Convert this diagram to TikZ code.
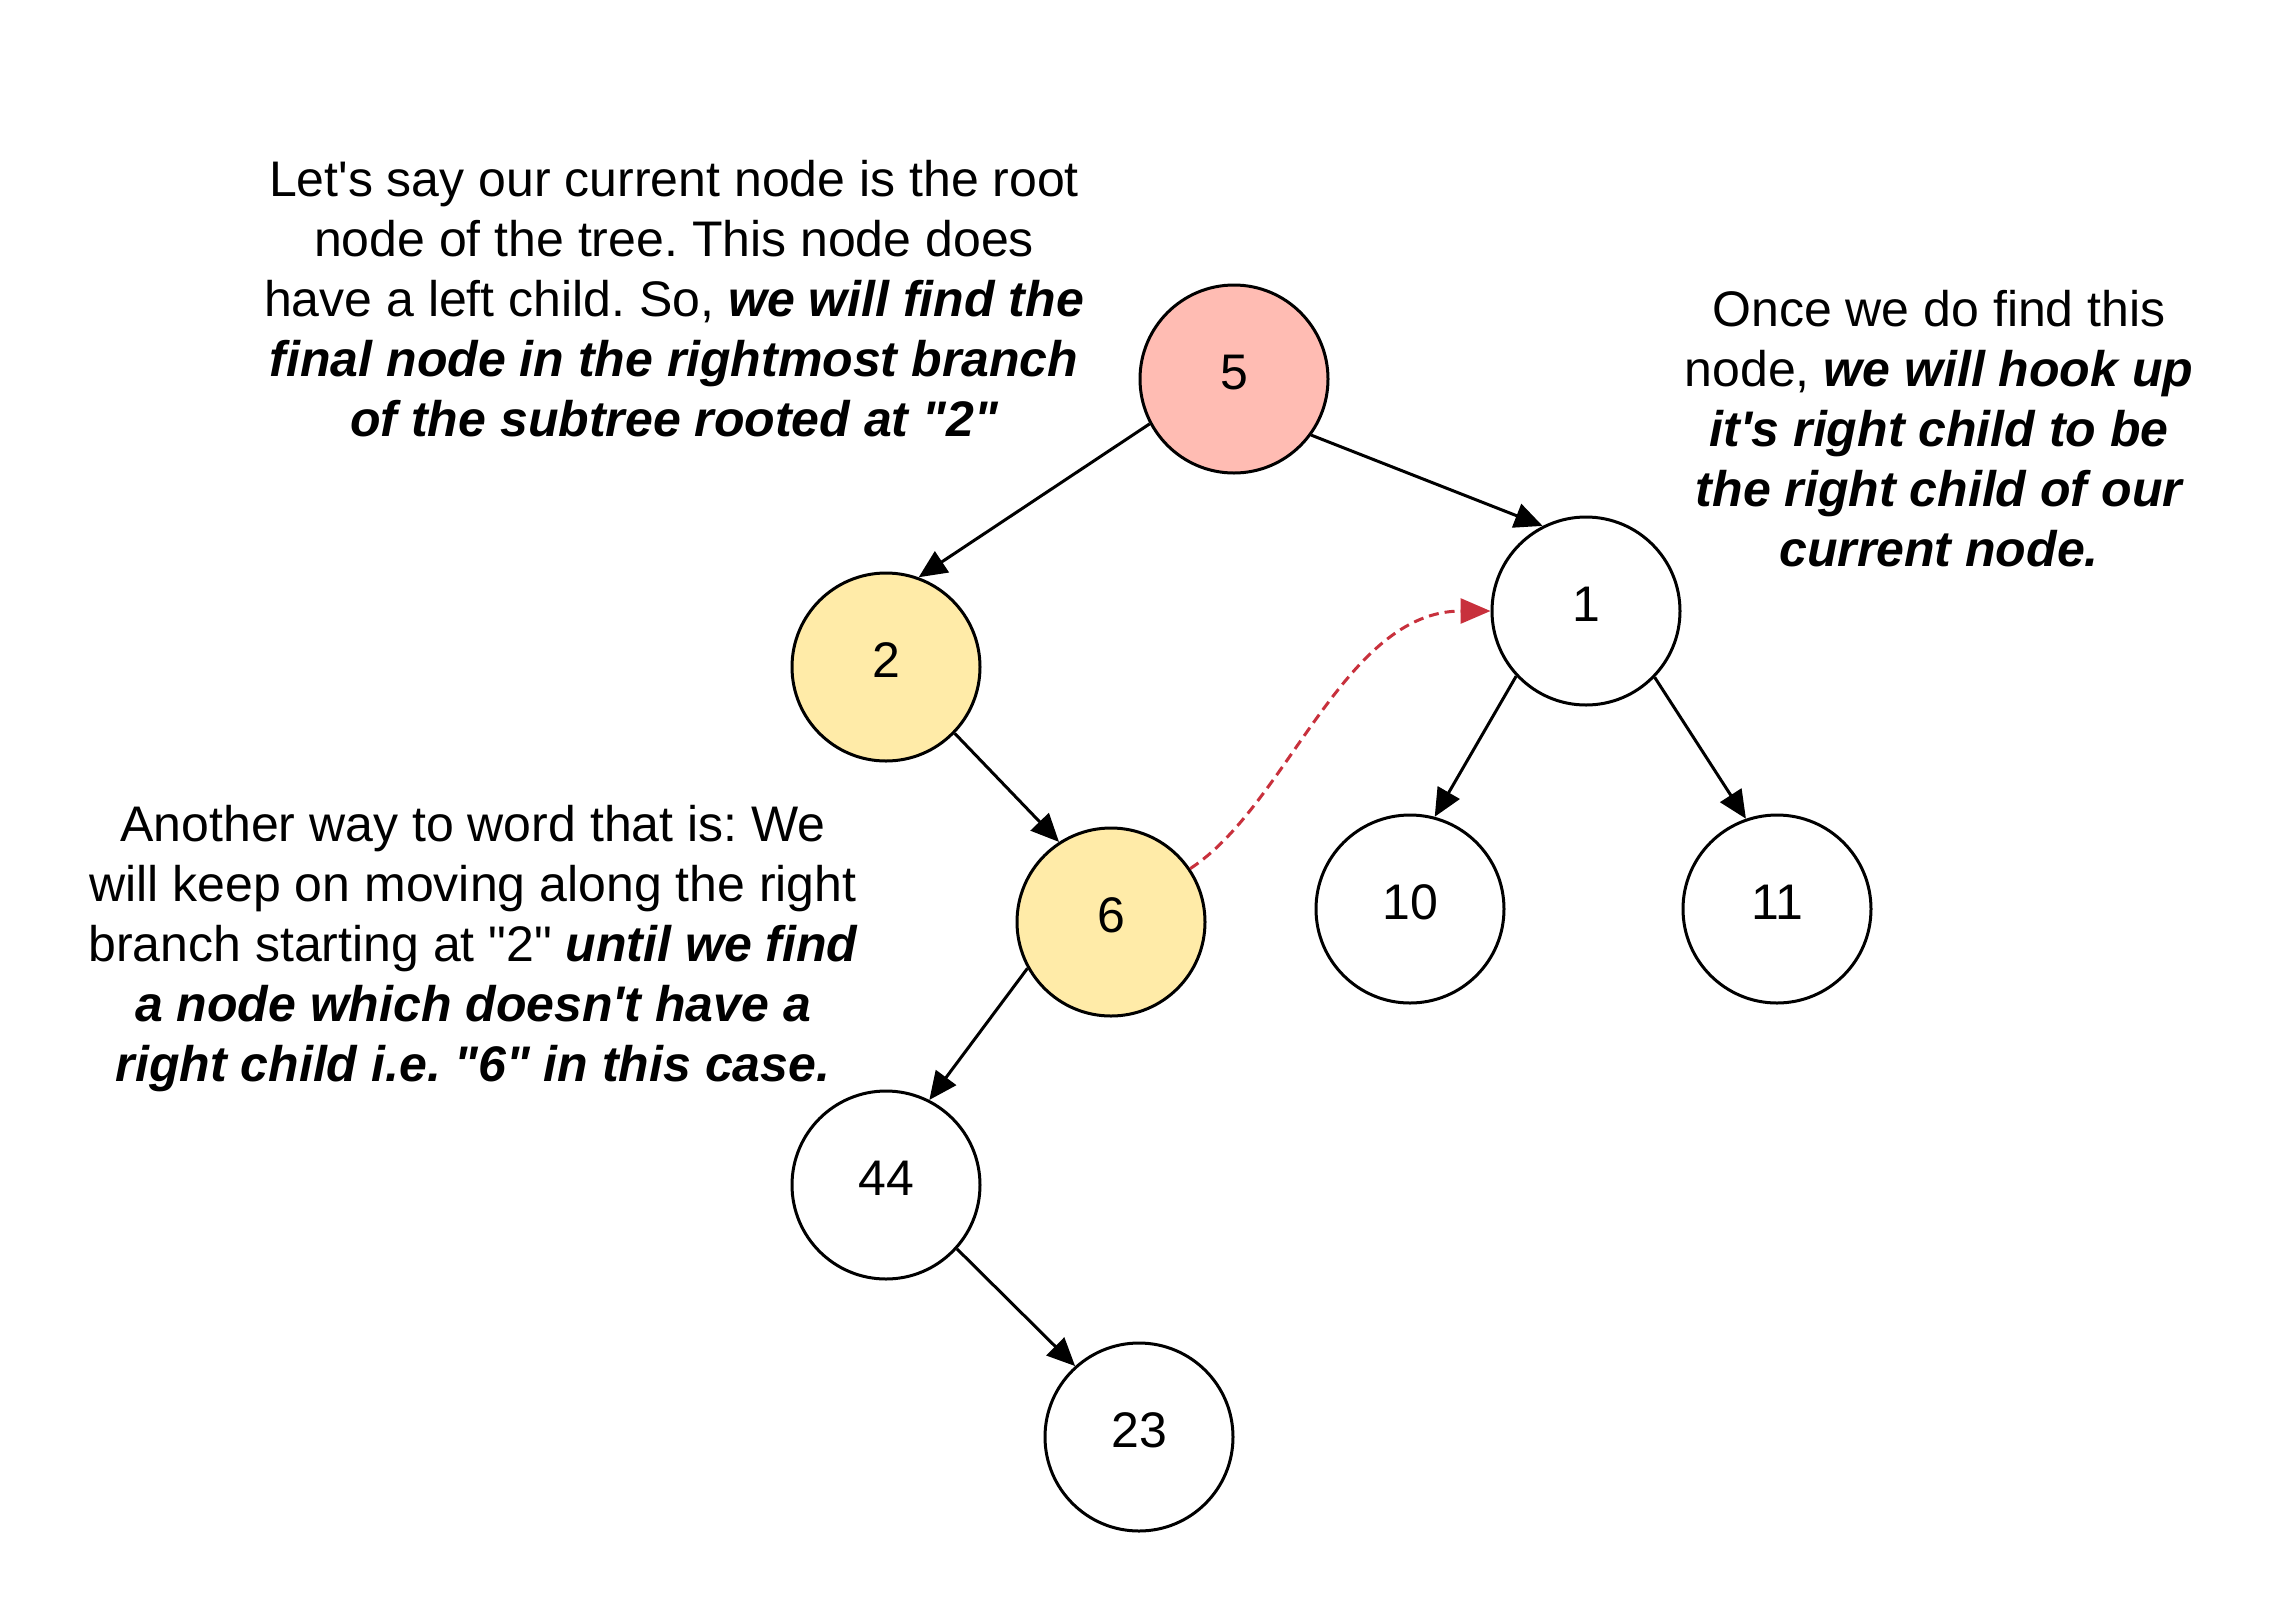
\documentclass[tikz,border=0pt]{standalone}
\usepackage{fontspec}
\setmainfont{Liberation Sans}
\usetikzlibrary{arrows.meta}
\definecolor{rootfill}{HTML}{FFBCB3}
\definecolor{pathfill}{HTML}{FFEBA8}
\definecolor{linkred}{HTML}{C8303C}
\newcommand\bi[1]{{\bfseries\itshape #1}}
\newcommand\ap{\textquotesingle}
\newcommand\qq{\textquotedbl}
\frenchspacing
\begin{document}
\begin{tikzpicture}[x=1pt,y=-1pt,
  treenode/.style={circle, draw=black, line width=3pt, minimum size=188pt, inner sep=0pt,
    font=\fontsize{50}{60}\selectfont, text height=36pt, text depth=16pt},
  edge/.style={line width=3pt, -{Triangle[length=28pt,width=25pt]}},
  link/.style={line width=3pt, draw=linkred, dash pattern=on 10pt off 6pt,
    -{Triangle[length=30pt,width=25pt,fill=linkred]}},
  note/.style={align=center, inner sep=0pt, anchor=north, font=\fontsize{50}{60}\selectfont}]
\useasboundingbox[fill=white] (0,0) rectangle (2295,1607);

\node[treenode, fill=rootfill] (n5) at (1234,379) {5};
\node[treenode] (n1) at (1586,611) {1};
\node[treenode, fill=pathfill] (n2) at (886,667) {2};
\node[treenode, fill=pathfill] (n6) at (1111,922) {6};
\node[treenode] (n10) at (1410,909) {10};
\node[treenode] (n11) at (1777,909) {11};
\node[treenode] (n44) at (886,1185) {44};
\node[treenode] (n23) at (1139,1437) {23};

\draw[edge] (n5.208) -- (n2.70.6);
\draw[edge] (n5.-36) -- (n1.117.6);
\draw[edge] (n2.-44) -- (n6.123);
\draw[edge] (n6.209) -- (n44.63.4);
\draw[edge] (n44.-42) -- (n23.132.9);
\draw[edge] (n1.223) -- (n10.75);
\draw[edge] (n1.-44.6) -- (n11.109.7);

\draw[link] (n6.34.5) to[out=33, in=180, out looseness=0.75, in looseness=0.95] (n1.west);

\node[note] (t1) at (674,160) {Let\ap s say our current node is the root\\
node of the tree. This node does\\
have a left child. So, \bi{we will find the}\\
\bi{final node in the rightmost branch}\\
\bi{of the subtree rooted at \qq 2\qq}};

\node[note] (t2) at (473,805) {Another way to word that is: We\\
will keep on moving along the right\\
branch starting at \qq 2\qq{} \bi{until we find}\\
\bi{a node which doesn\ap t have a}\\
\bi{right child i.e. \qq 6\qq{} in this case.}};

\node[note] (t3) at (1939,290) {Once we do find this\\
node, \bi{we will hook up}\\
\bi{it\ap s right child to be}\\
\bi{the right child of our}\\
\bi{current node.}};
\end{tikzpicture}
\end{document}
